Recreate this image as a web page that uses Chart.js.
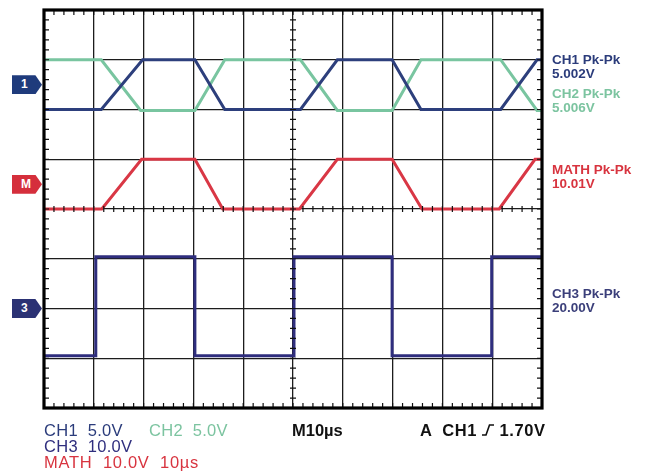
<!DOCTYPE html>
<html>
<head>
<meta charset="utf-8">
<title>Scope capture</title>
<script src="https://cdn.jsdelivr.net/npm/chart.js@4.4.1/dist/chart.umd.min.js"></script>
<style>
  html, body { margin: 0; padding: 0; background: #fff; }
  #wrap { position: relative; width: 650px; height: 472px; overflow: hidden; }
  #scope { position: absolute; left: 0; top: 0; }
  .readout { position: absolute; left: 552px; font: bold 13.5px "Liberation Sans", Arial, sans-serif; line-height: 14px; white-space: pre; }
  .marker { position: absolute; width: 30px; height: 19px; color: #fff; font: bold 12px "Liberation Sans", Arial, sans-serif; line-height: 19px; text-indent: 9px;
            clip-path: polygon(0 0, 78% 0, 100% 50%, 78% 100%, 0 100%); }
  .foot { position: absolute; font-family: "Liberation Sans", Arial, sans-serif; font-size: 16.5px; line-height: 16px; letter-spacing: 0.3px; white-space: pre; }
</style>
</head>
<body>
<div id="wrap">
  <canvas id="scope" width="650" height="472"></canvas>

  <div class="marker" id="mk1" style="background:#1f3b7c">1</div>
  <div class="marker" id="mkM" style="background:#d52f3c">M</div>
  <div class="marker" id="mk3" style="background:#2b3274">3</div>

  <div class="readout" style="top:53px;color:#2b3c7b">CH1 Pk-Pk<br>5.002V</div>
  <div class="readout" style="top:87px;color:#7cc4a0">CH2 Pk-Pk<br>5.006V</div>
  <div class="readout" style="top:163px;color:#d8343f">MATH Pk-Pk<br>10.01V</div>
  <div class="readout" style="top:287px;color:#3b3f7a">CH3 Pk-Pk<br>20.00V</div>

  <div class="foot" style="left:44px;top:422px;color:#2b3c7b">CH1  5.0V</div>
  <div class="foot" style="left:149px;top:422px;color:#7cc4a0">CH2  5.0V</div>
  <div class="foot" style="left:292px;top:422px;color:#111;font-weight:bold;letter-spacing:0">M10µs</div>
  <div class="foot" style="left:420px;top:422px;color:#111;font-weight:bold;letter-spacing:0.6px">A  CH1 <svg width="12" height="12" viewBox="0 0 12 12"><polyline points="0,11 4,11 7.5,1 12,1" fill="none" stroke="#111" stroke-width="1.6"/></svg> 1.70V</div>
  <div class="foot" style="left:44px;top:438px;color:#2f2e7e">CH3  10.0V</div>
  <div class="foot" style="left:44px;top:454px;color:#d8343f;letter-spacing:0.7px">MATH  10.0V  10µs</div>
</div>

<script>
// time in divisions (10 us/div), level in divisions from the bottom of the graticule
const ch1Time   = [0, 1.15, 1.98, 3.03, 3.63, 5.15, 5.89, 6.99, 7.57, 9.17, 9.90, 10];
const ch1Level  = [6, 6, 7, 7, 6, 6, 7, 7, 6, 6, 7, 7];
const ch2Time   = [0, 1.15, 1.94, 3.03, 3.63, 5.15, 5.89, 6.99, 7.57, 9.17, 9.90, 10];
const ch2Level  = [7, 7, 5.98, 5.98, 7, 7, 5.98, 5.98, 7, 7, 5.98, 5.98];
const mathTime  = [0, 1.16, 1.96, 3.03, 3.59, 5.13, 5.89, 6.99, 7.59, 9.14, 9.86, 10];
const mathLevel = [4, 4, 5, 5, 4, 4, 5, 5, 4, 4, 5, 5];
const ch3Time   = [0, 1.04, 3.03, 5.02, 6.99, 8.99, 10];
const ch3Level  = [1.05, 3.04, 1.05, 3.04, 1.05, 3.04, 3.04];

// channel ground markers on the left edge
const markerIds    = ['mk1', 'mkM', 'mk3'];
const markerLevels = [6.5, 4.5, 2];

const xDivs = 10, yDivs = 8, minorPerDiv = 5;

const toPoints = (t, v) => t.map((x, i) => ({ x: x, y: v[i] }));

// graticule frame + minor ticks, and the marker placement
const graticule = {
  id: 'graticule',
  afterDatasetsDraw(chart) {
    const { ctx, chartArea: a, scales: { x, y } } = chart;
    const xc = x.getPixelForValue(xDivs / 2);
    const yc = y.getPixelForValue(yDivs / 2);
    ctx.save();
    ctx.strokeStyle = '#111';
    ctx.lineWidth = 1.2;
    ctx.beginPath();
    for (let i = 0; i <= xDivs * minorPerDiv; i++) {
      const px = x.getPixelForValue(i / minorPerDiv);
      ctx.moveTo(px, a.top); ctx.lineTo(px, a.top + 5);
      ctx.moveTo(px, a.bottom); ctx.lineTo(px, a.bottom - 5);
      ctx.moveTo(px, yc - 3); ctx.lineTo(px, yc + 3);
    }
    for (let i = 0; i <= yDivs * minorPerDiv; i++) {
      const py = y.getPixelForValue(i / minorPerDiv);
      ctx.moveTo(a.left, py); ctx.lineTo(a.left + 5, py);
      ctx.moveTo(a.right, py); ctx.lineTo(a.right - 5, py);
      ctx.moveTo(xc - 3, py); ctx.lineTo(xc + 3, py);
    }
    ctx.stroke();
    ctx.strokeStyle = '#000';
    ctx.lineWidth = 3.2;
    ctx.strokeRect(a.left, a.top, a.right - a.left, a.bottom - a.top);
    ctx.restore();

    markerIds.forEach((id, i) => {
      const el = document.getElementById(id);
      el.style.left = (a.left - 32) + 'px';
      el.style.top = (y.getPixelForValue(markerLevels[i]) - 9.5) + 'px';
    });
  }
};

const trace = (label, color, t, v) => ({
  label: label,
  data: toPoints(t, v),
  borderColor: color,
  borderWidth: 3,
  pointRadius: 0,
  tension: 0,
  fill: false
});

new Chart(document.getElementById('scope'), {
  type: 'line',
  data: {
    datasets: [
      trace('CH1', '#2d3f7c', ch1Time, ch1Level),
      trace('CH2', '#79c5a0', ch2Time, ch2Level),
      trace('MATH', '#d93745', mathTime, mathLevel),
      Object.assign(trace('CH3', '#2f2e7e', ch3Time, ch3Level), { stepped: true })
    ]
  },
  options: {
    responsive: false,
    animation: false,
    events: [],
    layout: { padding: { left: 44, top: 10, right: 108, bottom: 64 } },
    plugins: { legend: { display: false }, tooltip: { enabled: false } },
    scales: {
      x: {
        type: 'linear', min: 0, max: xDivs,
        ticks: { display: false, stepSize: 1 },
        grid: { color: '#1c1c1c', lineWidth: 1.3, drawTicks: false },
        border: { display: false }
      },
      y: {
        type: 'linear', min: 0, max: yDivs,
        ticks: { display: false, stepSize: 1 },
        grid: { color: '#1c1c1c', lineWidth: 1.3, drawTicks: false },
        border: { display: false }
      }
    }
  },
  plugins: [graticule]
});
</script>
</body>
</html>
